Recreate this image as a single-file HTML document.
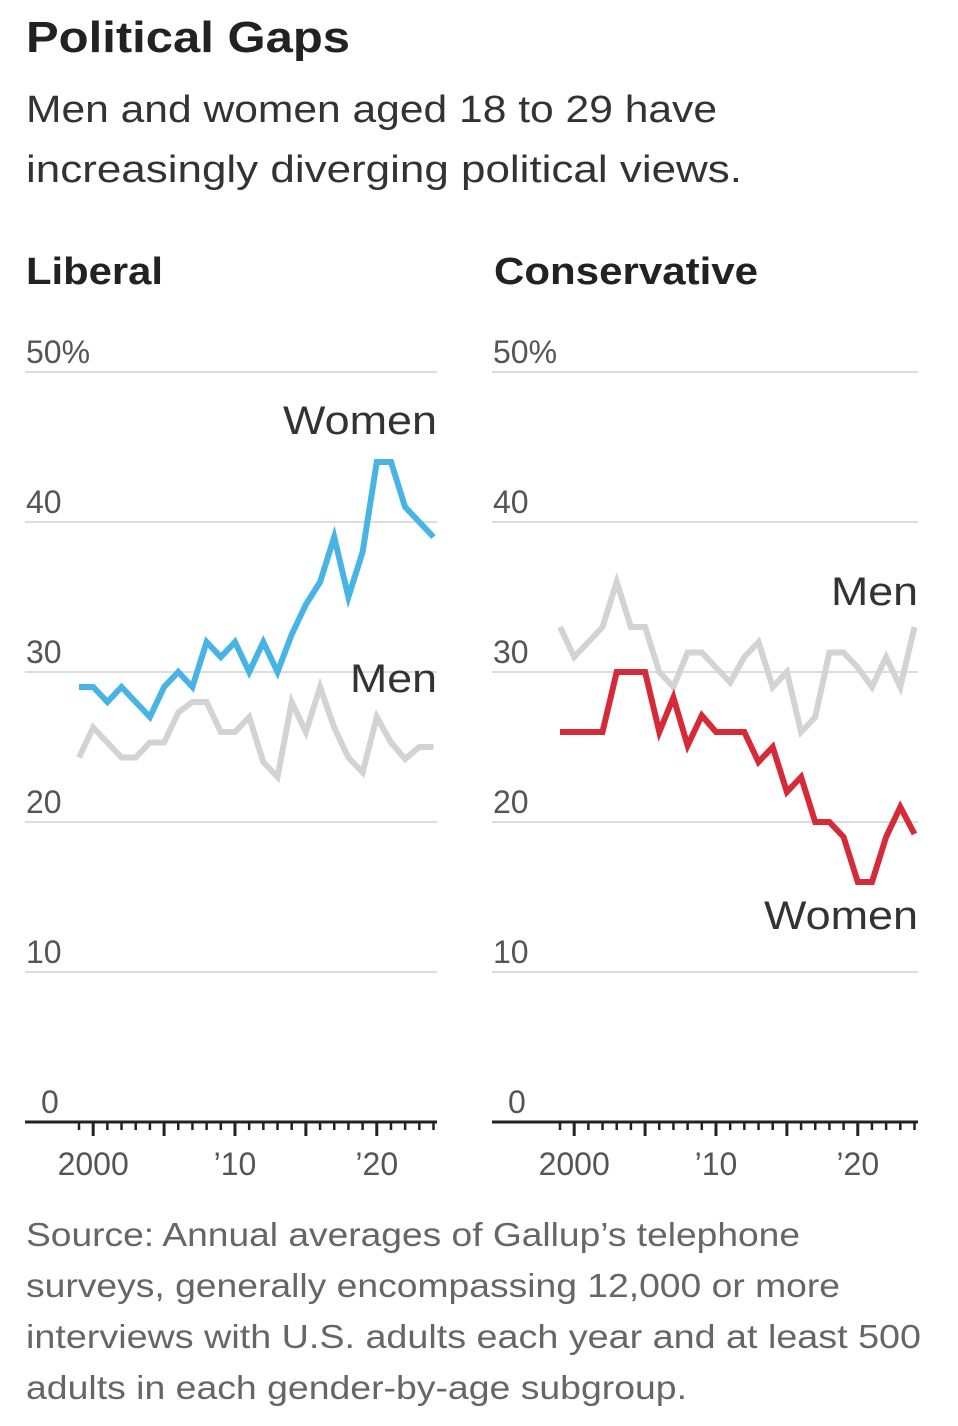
<!DOCTYPE html>
<html><head><meta charset="utf-8"><style>
html,body{margin:0;padding:0;background:#fff;}
svg{display:block;font-family:"Liberation Sans",sans-serif;}
</style></head><body>
<svg id="chart" width="958" height="1426" viewBox="0 0 958 1426" xmlns="http://www.w3.org/2000/svg">
<text x="26" y="52" font-size="44" font-weight="bold" fill="#222" textLength="324" lengthAdjust="spacingAndGlyphs">Political Gaps</text>
<text x="26" y="122" font-size="38" fill="#333" textLength="691" lengthAdjust="spacingAndGlyphs">Men and women aged 18 to 29 have</text>
<text x="26" y="182" font-size="38" fill="#333" textLength="716" lengthAdjust="spacingAndGlyphs">increasingly diverging political views.</text>
<text x="26" y="284" font-size="38" font-weight="bold" fill="#222" textLength="137" lengthAdjust="spacingAndGlyphs">Liberal</text>
<text x="494" y="284" font-size="38" font-weight="bold" fill="#222" textLength="264" lengthAdjust="spacingAndGlyphs">Conservative</text>
<g id="panels"></g>
<g font-size="33" fill="#666">
<text x="26" y="1246" textLength="774" lengthAdjust="spacingAndGlyphs">Source: Annual averages of Gallup’s telephone</text>
<text x="26" y="1297" textLength="814" lengthAdjust="spacingAndGlyphs">surveys, generally encompassing 12,000 or more</text>
<text x="26" y="1348" textLength="895" lengthAdjust="spacingAndGlyphs">interviews with U.S. adults each year and at least 500</text>
<text x="26" y="1399" textLength="661" lengthAdjust="spacingAndGlyphs">adults in each gender-by-age subgroup.</text>
</g>
</svg>
<script>
const years = [1999,2000,2001,2002,2003,2004,2005,2006,2007,2008,2009,2010,2011,2012,2013,2014,2015,2016,2017,2018,2019,2020,2021,2022,2023,2024];
const liberalWomen = [29,29,28,29,28,27,29,30,29,32,31,32,30,32,30,32.5,34.5,36,39,35,38,44,44,41,40,39];
const liberalMen = [24.3,26.3,25.3,24.3,24.3,25.3,25.3,27.3,28,28,26,26,27,24,23,28,26,29,26.3,24.3,23.3,27,25.3,24.2,25,25];
const conservativeWomen = [26,26,26,26,30,30,30,26,28.3,25.1,27.1,26,26,26,24,25,22,23,20,20,19,16,16,19,21,19.2];
const conservativeMen = [33,31,32,33,36,33,33,30,29,31.3,31.3,30.3,29.3,31,32,29,30,26,27,31.3,31.3,30.3,29,31,29,33];
const yTicks = [0,10,20,30,40,50];
const yTickLabels = ['0','10','20','30','40','50%'];
const xLabelYears = [2000,2010,2020];
const xLabels = ['2000','’10','’20'];

const NS='http://www.w3.org/2000/svg';
const root=document.getElementById('panels');
function mk(tag,attrs,parent){const e=document.createElementNS(NS,tag);for(const k in attrs)e.setAttribute(k,attrs[k]);parent.appendChild(e);return e;}
function yScale(v){return 1122-15*v;}

function panel(name,left,right,x1999,women,men,womenColor,womenLabel,menLabel){
  const g=mk('g',{},root);
  
  
  const xScale=y=>x1999+(y-1999)*14.18;
  yTicks.forEach((t,i)=>{
    if(t>0){const l=mk('line',{x1:left,x2:right,y1:yScale(t),y2:yScale(t),stroke:'#dcdcdc','stroke-width':2},g);
      
      }
    const tx=mk('text',{x:t===0?left+16:left+1,y:yScale(t)-9,'font-size':32,fill:'#555'},g);
    
    
    tx.textContent=yTickLabels[i];
  });
  const ax=mk('line',{x1:left,x2:right,y1:1122,y2:1122,stroke:'#222','stroke-width':3},g);
  
  
  years.forEach(y=>{
    const major=y%5===0;
    const tk=mk('line',{x1:xScale(y),x2:xScale(y),y1:1122,y2:major?1136:1130,stroke:'#222','stroke-width':major?3:2.5},g);
    
    
  });
  xLabelYears.forEach((y,i)=>{
    const tx=mk('text',{x:xScale(y),y:1175,'font-size':32,fill:'#555','text-anchor':'middle'},g);
    
    
    tx.textContent=xLabels[i];
  });
  const line=(vals)=>vals.map((v,i)=>(i?'L':'M')+xScale(years[i]).toFixed(1)+','+yScale(v).toFixed(1)).join(' ');
  const pm=mk('path',{d:line(men),fill:'none',stroke:'#d3d3d3','stroke-width':6,'stroke-linejoin':'miter'},g);
  
  
  const pw=mk('path',{d:line(women),fill:'none',stroke:womenColor,'stroke-width':6,'stroke-linejoin':'miter'},g);
  
  
  const wl=mk('text',{x:right-154,y:womenLabel,'font-size':40,fill:'#333',textLength:154,lengthAdjust:'spacingAndGlyphs'},g);
  
  
  wl.textContent='Women';
  const ml=mk('text',{x:right-87,y:menLabel,'font-size':40,fill:'#333',textLength:87,lengthAdjust:'spacingAndGlyphs'},g);
  
  
  ml.textContent='Men';
}
panel('liberal',25,437,79,liberalWomen,liberalMen,'#48b4e4',434,692);
panel('conservative',492,918,560,conservativeWomen,conservativeMen,'#d52b38',929,605);
</script>
</body></html>
